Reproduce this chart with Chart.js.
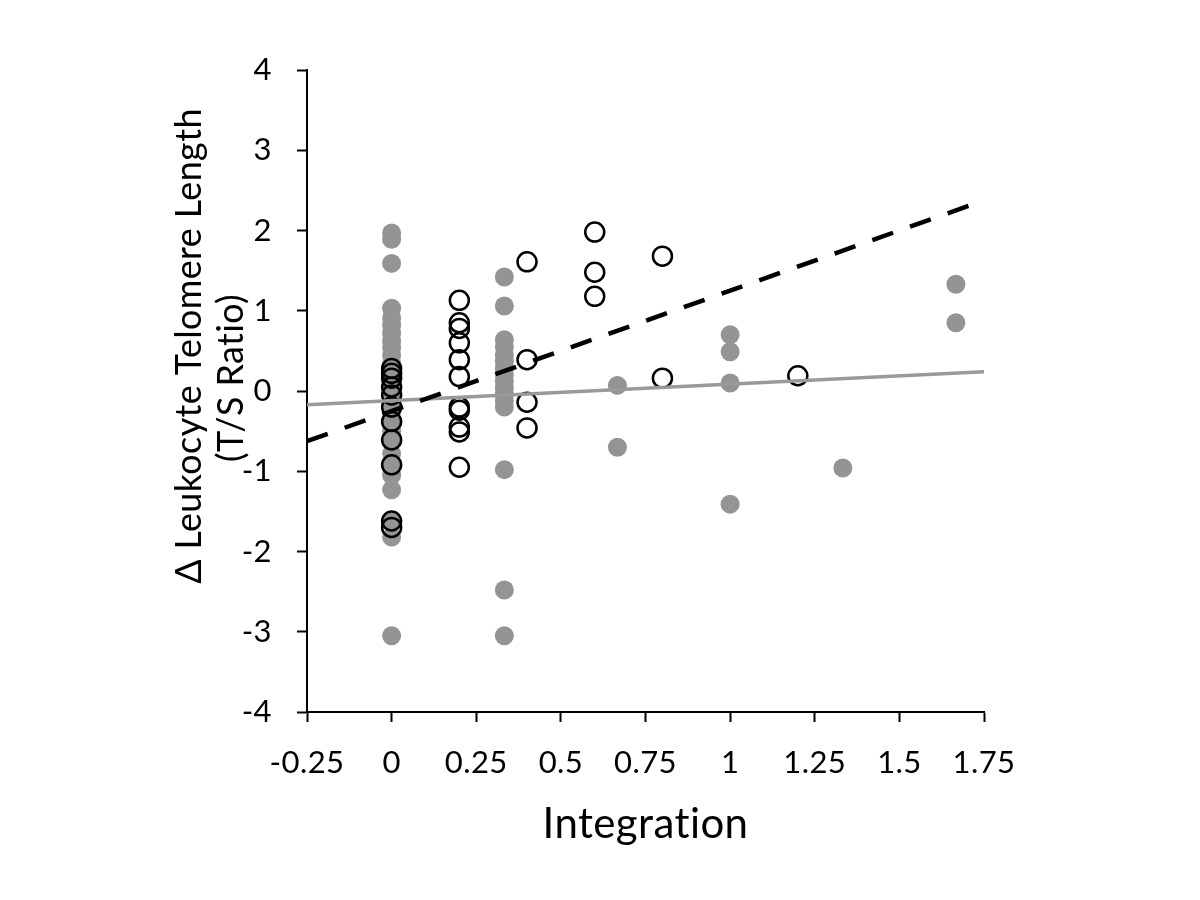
<!DOCTYPE html>
<html>
<head>
<meta charset="utf-8">
<title>Telomere length vs integration</title>
<script src="https://cdn.jsdelivr.net/npm/chart.js@4.4.1/dist/chart.umd.min.js"></script>
<style>
  html, body { margin: 0; padding: 0; background: #fff; }
  #wrap { width: 1200px; height: 900px; }
</style>
</head>
<body>
<div id="wrap"><canvas id="chart" width="1200" height="900"></canvas></div>
<script>
// axis ranges and ticks
const xTicks = [-0.25, 0, 0.25, 0.5, 0.75, 1, 1.25, 1.5, 1.75];
const yTicks = [-4, -3, -2, -1, 0, 1, 2, 3, 4];

// filled grey points
const grayX = [
  0, 0, 0, 0, 0, 0, 0, 0, 0, 0, 0, 0, 0, 0, 0, 0, 0, 0, 0, 0, 0, 0, 0, 0, 0, 0, 0,
  0.333, 0.333, 0.333, 0.333, 0.333, 0.333, 0.333, 0.333, 0.333, 0.333, 0.333, 0.333, 0.333, 0.333, 0.333, 0.333,
  0.667, 0.667,
  1, 1, 1, 1,
  1.333,
  1.667, 1.667
];
const grayY = [
  1.97, 1.89, 1.59, 1.03, 0.91, 0.82, 0.72, 0.62, 0.54, 0.45, 0.35, 0.25, 0.15, 0.05, -0.05, -0.15, -0.25, -0.38, -0.5, -0.61, -0.78, -0.92, -1.05, -1.23, -1.62, -1.82, -3.05,
  1.42, 1.06, 0.64, 0.55, 0.45, 0.37, 0.28, 0.2, 0.12, 0.04, -0.04, -0.12, -0.2, -0.98, -2.48, -3.05,
  0.07, -0.7,
  0.7, 0.49, 0.1, -1.41,
  -0.96,
  1.33, 0.85
];

// open black circles
const blackX = [
  0, 0, 0, 0, 0, 0, 0, 0, 0, 0, 0,
  0.2, 0.2, 0.2, 0.2, 0.2, 0.2, 0.2, 0.2, 0.2, 0.2, 0.2,
  0.4, 0.4, 0.4, 0.4,
  0.6, 0.6, 0.6,
  0.8, 0.8,
  1.2
];
const blackY = [
  0.28, 0.22, 0.16, 0.05, -0.05, -0.2, -0.38, -0.61, -0.92, -1.62, -1.7,
  1.13, 0.85, 0.78, 0.6, 0.39, 0.18, -0.2, -0.24, -0.45, -0.51, -0.95,
  1.61, 0.39, -0.14, -0.46,
  1.98, 1.48, 1.18,
  1.68, 0.16,
  0.19
];

// trend line ends, read at the x axis limits
const fitX = [-0.25, 1.75];
const grayFitY = [-0.17, 0.24];
const blackFitY = [-0.625, 2.375];

const yTitleLines = ['\u0394 Leukocyte Telomere Length', '(T/S Ratio)'];
const xTitle = 'Integration';

const FONT = 'Lato';
const toPoints = (xs, ys) => xs.map((x, i) => ({ x: x, y: ys[i] }));

// a little letter spacing keeps Lato from joining "ti"
const spacingPlugin = {
  id: 'spacing',
  beforeDraw(chart) { chart.ctx.letterSpacing = '0.4px'; }
};

// y title is placed by hand so it sits where the original one does
const yTitlePlugin = {
  id: 'yTitle',
  afterDraw(chart) {
    const ctx = chart.ctx;
    ctx.save();
    ctx.fillStyle = '#000';
    ctx.textAlign = 'center';
    ctx.textBaseline = 'middle';
    ctx.font = '34px ' + FONT;
    const w = ctx.measureText(yTitleLines[0]).width;
    const size = 34 * 477 / w;
    ctx.font = size.toFixed(1) + 'px ' + FONT;
    const spots = [[189, 346], [231, 378]];
    yTitleLines.forEach((line, i) => {
      ctx.save();
      ctx.translate(spots[i][0], spots[i][1]);
      ctx.rotate(-Math.PI / 2);
      ctx.fillText(line, 0, 0);
      ctx.restore();
    });
    ctx.restore();
  }
};

const axisCommon = {
  grid: { display: true, drawOnChartArea: false, drawTicks: true, tickLength: 10, tickColor: '#000', tickWidth: 2 },
  border: { display: true, color: '#000', width: 2 }
};

new Chart(document.getElementById('chart'), {
  type: 'scatter',
  data: {
    datasets: [
      {
        label: 'trend (open)',
        data: toPoints(fitX, blackFitY),
        showLine: true,
        borderColor: '#000',
        borderWidth: 4.5,
        borderDash: [22, 18],
        pointRadius: 0,
        order: 0
      },
      {
        label: 'trend (filled)',
        data: toPoints(fitX, grayFitY),
        showLine: true,
        borderColor: '#999999',
        borderWidth: 3.5,
        pointRadius: 0,
        order: 1
      },
      {
        label: 'open',
        data: toPoints(blackX, blackY),
        pointRadius: 9.5,
        borderColor: '#000',
        borderWidth: 2.5,
        backgroundColor: 'rgba(0,0,0,0)',
        order: 2
      },
      {
        label: 'filled',
        data: toPoints(grayX, grayY),
        pointRadius: 9.5,
        borderWidth: 0,
        backgroundColor: '#949494',
        order: 3
      }
    ]
  },
  options: {
    responsive: false,
    animation: false,
    devicePixelRatio: 1,
    layout: { padding: { left: 0, right: 216, top: 70, bottom: 40 } },
    plugins: { legend: { display: false }, tooltip: { enabled: false } },
    scales: {
      x: {
        ...axisCommon,
        type: 'linear',
        min: xTicks[0],
        max: xTicks[xTicks.length - 1],
        afterBuildTicks: s => { s.ticks = xTicks.map(v => ({ value: v })); },
        afterFit: s => { s.height = 148; },
        ticks: { color: '#000', font: { family: FONT, size: 31 }, padding: 22, maxRotation: 0, callback: v => String(v) },
        title: { display: true, text: xTitle, color: '#000', font: { family: FONT, size: 42 }, padding: { top: 0, bottom: 10 } }
      },
      y: {
        ...axisCommon,
        type: 'linear',
        min: yTicks[0],
        max: yTicks[yTicks.length - 1],
        afterBuildTicks: s => { s.ticks = yTicks.map(v => ({ value: v })); },
        afterFit: s => { s.width = 307; },
        ticks: { color: '#000', font: { family: FONT, size: 31 }, padding: 25, callback: v => String(v) }
      }
    }
  },
  plugins: [spacingPlugin, yTitlePlugin]
});
</script>
</body>
</html>
